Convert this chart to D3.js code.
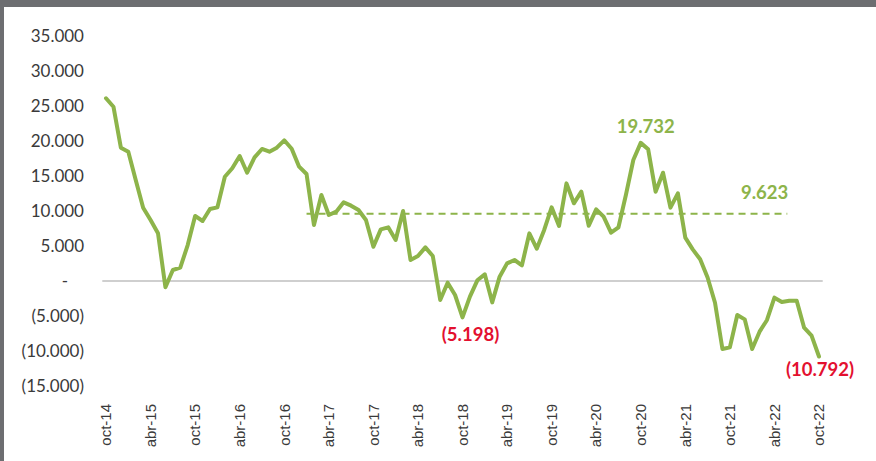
<!DOCTYPE html>
<html>
<head>
<meta charset="utf-8">
<script src="https://cdn.jsdelivr.net/npm/d3@7"></script>
<style>
  html, body { margin: 0; padding: 0; background: #fff; }
  svg { display: block; }
</style>
</head>
<body>
<svg id="chart" width="876" height="461"></svg>
<script>
// ---- data ----
const months = ["ene","feb","mar","abr","may","jun","jul","ago","sep","oct","nov","dic"];
// monthly series, oct-14 .. oct-22
const startYear = 2014, startMonth = 9; // October
const values = [
  26100, 24900, 19050, 18470, 14430, 10470, 8710, 6810, -900, 1570,
  1900, 5140, 9290, 8570, 10290, 10520, 14900, 16100, 17860, 15470,
  17670, 18860, 18470, 19050, 20100, 18900, 16330, 15290, 8000, 12290,
  9430, 9900, 11240, 10760, 10140, 8710, 4900, 7380, 7670, 5860,
  10000, 3000, 3570, 4810, 3570, -2710, -240, -2000, -5198, -2240,
  100, 950, -3050, 620, 2520, 3000, 2240, 6810, 4620, 7290,
  10520, 7860, 13950, 11100, 12760, 7900, 10240, 9190, 6900, 7670,
  12290, 17290, 19732, 18810, 12760, 15470, 10480, 12520, 6190, 4520,
  3100, 500, -3100, -9710, -9480, -4860, -5480, -9710, -7240, -5570,
  -2380, -3000, -2810, -2810, -6670, -7810, -10792
];
const average = 9623;
const avgStartIndex = 27, avgEndIndex = 92;
const yTicks = [35000, 30000, 25000, 20000, 15000, 10000, 5000, 0, -5000, -10000, -15000];
const maxIndex = 72, minIndex = 48, lastIndex = 96;

// labels for each month
const categories = values.map((v, i) => {
  const m = (startMonth + i) % 12;
  const y = startYear + Math.floor((startMonth + i) / 12);
  return months[m] + "-" + String(y).slice(2);
});
const tickCats = categories.filter((c, i) => i % 6 === 0);

// ---- drawing ----
const svg = d3.select("#chart");
const green = "#8db44a", red = "#e3102f", textCol = "#3a3a3a";

// frame bands
svg.append("rect").attr("x", 0).attr("y", 0).attr("width", 876).attr("height", 7).attr("fill", "#6d6e71");
svg.append("rect").attr("x", 0).attr("y", 0).attr("width", 4).attr("height", 461).attr("fill", "#6d6e71");

const x = d3.scaleBand().domain(categories).range([102.3, 822.7]).padding(0);
const xc = c => x(c) + x.bandwidth() / 2;
const y = d3.scaleLinear().domain([-15000, 35000]).range([386, 36]);

const fmt = v => {
  if (v === 0) return "-";
  const s = d3.format(",")(Math.abs(v)).replace(/,/g, ".");
  return v < 0 ? "(" + s + ")" : s;
};

// y axis labels
const yAxis = d3.axisLeft(y).tickValues(yTicks).tickFormat(fmt).tickSize(0).tickPadding(0);
const gy = svg.append("g").attr("transform", "translate(84,0)").call(yAxis);
gy.select(".domain").remove();
gy.selectAll("text")
  .attr("fill", textCol)
  .style("font-family", "Lato, 'Liberation Sans', sans-serif")
  .style("font-size", "17px")
  .attr("dy", "0.35em")
  .attr("x", d => d === 0 ? -16 : 0);

// zero line
svg.append("line")
  .attr("x1", x.range()[0]).attr("x2", x.range()[1])
  .attr("y1", y(0)).attr("y2", y(0))
  .attr("stroke", "#bfbfbf").attr("stroke-width", 1.5);

// x axis labels
const xAxis = d3.axisBottom(x).tickValues(tickCats).tickSize(0).tickPadding(0);
const gx = svg.append("g").attr("transform", "translate(0,398)").call(xAxis);
gx.select(".domain").remove();
gx.selectAll("text")
  .attr("fill", textCol)
  .style("font-family", "'Liberation Sans', Arial, sans-serif")
  .style("font-size", "15px")
  .attr("transform", "rotate(-90)")
  .attr("text-anchor", "end")
  .attr("x", -6)
  .attr("y", 0)
  .attr("dy", "0.35em");

// average dashed line
svg.append("line")
  .attr("x1", xc(categories[avgStartIndex])).attr("x2", xc(categories[avgEndIndex]) - 2)
  .attr("y1", y(average)).attr("y2", y(average))
  .attr("stroke", green).attr("stroke-width", 2)
  .attr("stroke-dasharray", "7,5");

// main line
const line = d3.line().x((d, i) => xc(categories[i])).y(d => y(d));
svg.append("path").datum(values)
  .attr("d", line)
  .attr("fill", "none").attr("stroke", green).attr("stroke-width", 4)
  .attr("stroke-linejoin", "round").attr("stroke-linecap", "round");

// annotations
const lblFont = "Lato, 'Liberation Sans', sans-serif";
function label(txt, xx, yy, col, anchor) {
  svg.append("text").text(txt)
    .attr("x", xx).attr("y", yy)
    .attr("text-anchor", anchor || "middle")
    .attr("fill", col)
    .style("font-family", lblFont)
    .style("font-weight", "bold")
    .style("font-size", "18.5px");
}
label(fmt(values[maxIndex]), xc(categories[maxIndex]) + 5, y(values[maxIndex]) - 10, green);
label(fmt(average), xc(categories[avgEndIndex]) - 1, y(average) - 15, green, "end");
label(fmt(values[minIndex]), xc(categories[minIndex]) + 8, y(values[minIndex]) + 24, red);
label(fmt(values[lastIndex]), xc(categories[lastIndex]) + 1, y(values[lastIndex]) + 19, red);
</script>
</body>
</html>
